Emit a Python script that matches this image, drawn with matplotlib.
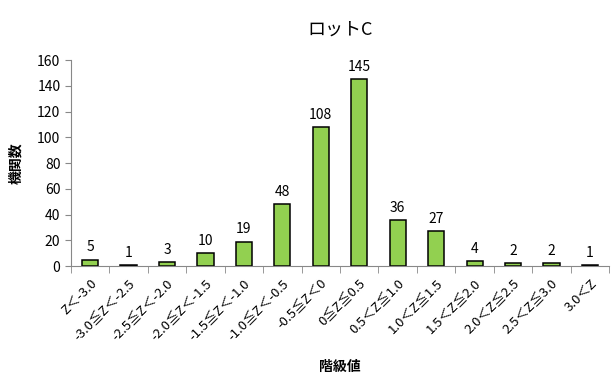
import matplotlib.pyplot as plt
import numpy as np

plt.rcParams['font.family'] = ['Noto Sans CJK JP', 'DejaVu Sans']

# Frequency table for lot C
classes = ['Z＜-3.0', '-3.0≦Z＜-2.5', '-2.5≦Z＜-2.0', '-2.0≦Z＜-1.5',
           '-1.5≦Z＜-1.0', '-1.0≦Z＜-0.5', '-0.5≦Z＜0', '0≦Z≦0.5',
           '0.5＜Z≦1.0', '1.0＜Z≦1.5', '1.5＜Z≦2.0', '2.0＜Z≦2.5',
           '2.5＜Z≦3.0', '3.0＜Z']
counts = [5, 1, 3, 10, 19, 48, 108, 145, 36, 27, 4, 2, 2, 1]

fig = plt.figure(figsize=(6.16, 3.8), dpi=100)
ax = fig.add_axes([0.115, 0.30, 0.874, 0.542])

x = np.arange(len(classes))
bars = ax.bar(x, counts, width=0.42, color='#92D050', edgecolor='black', linewidth=1.1)
for xi, c in zip(x, counts):
    ax.text(xi, c + 4, str(c), ha='center', va='bottom', fontsize=10)

ax.set_xlim(-0.5, len(classes) - 0.5)
ax.set_ylim(0, 160)
ax.set_yticks(np.arange(0, 161, 20))
ax.tick_params(axis='y', labelsize=10, color='#888888', length=4)

# category labels at bar centres, tick marks at the boundaries
ax.set_xticks(x)
ax.set_xticklabels(classes, rotation=45, ha='right', rotation_mode='anchor', fontsize=9.5)
ax.tick_params(axis='x', which='major', length=0, pad=8)
ax.set_xticks(np.arange(-0.5, len(classes), 1), minor=True)
ax.tick_params(axis='x', which='minor', length=5, color='#888888', direction='out')

for s in ['top', 'right']:
    ax.spines[s].set_visible(False)
for s in ['left', 'bottom']:
    ax.spines[s].set_color('#888888')

ax.set_title('ロットC', fontsize=13, pad=18)
ax.set_ylabel('機関数', fontsize=10, fontweight='bold', labelpad=10)
ax.set_xlabel('階級値', fontsize=10, fontweight='bold', labelpad=12)

fig.savefig('out.png', dpi=100)
